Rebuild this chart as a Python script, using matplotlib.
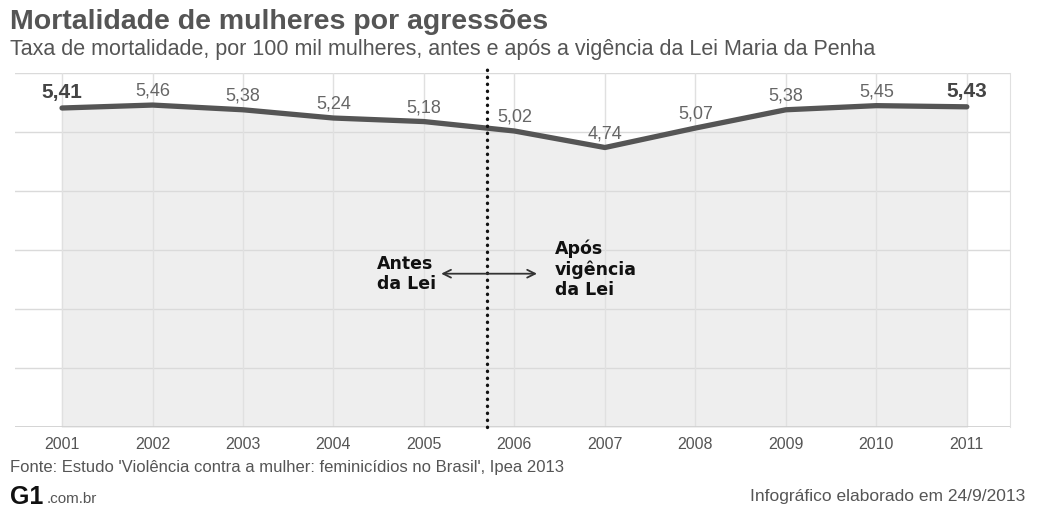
import matplotlib.pyplot as plt

plt.rcParams['font.family'] = ['Liberation Sans', 'DejaVu Sans']

# data
years = [2001, 2002, 2003, 2004, 2005, 2006, 2007, 2008, 2009, 2010, 2011]
taxa = [5.41, 5.46, 5.38, 5.24, 5.18, 5.02, 4.74, 5.07, 5.38, 5.45, 5.43]
destaque = [2001, 2011]   # labels drawn in bold
lei_x = 2005.7           # start of Lei Maria da Penha (dotted marker)

fig = plt.figure(figsize=(10.4, 5.12), dpi=100)
fig.patch.set_facecolor('white')
ax = fig.add_axes([0.0144, 0.166, 0.957, 0.691])

ax.set_xlim(2000.48, 2011.48)
ax.set_ylim(0, 6)

# grid
for y in range(0, 7):
    ax.axhline(y, color='#dadada', lw=1, zorder=1)
for x in years:
    ax.axvline(x, color='#e0e0e0', lw=1, zorder=1)
for s in ['top', 'left', 'bottom']:
    ax.spines[s].set_visible(False)
ax.spines['right'].set_color('#e0e0e0')
ax.axhline(0, color='#cfcfcf', lw=1.2, zorder=2)

# shaded area under the line
ax.fill_between(years, 0, taxa, color='#eeeeee', zorder=0)

# main line
ax.plot(years, taxa, color='#555555', lw=3.8, solid_capstyle='round', zorder=4)

# value labels
for x, v in zip(years, taxa):
    txt = f"{v:.2f}".replace('.', ',')
    if x in destaque:
        ax.annotate(txt, (x, v), xytext=(0, 11), textcoords='offset points',
                    ha='center', va='center', fontsize=15, fontweight='bold',
                    color='#444444', zorder=5)
    else:
        ax.annotate(txt, (x, v), xytext=(0, 10), textcoords='offset points',
                    ha='center', va='center', fontsize=13, color='#666666', zorder=5)

# dotted marker of the law
ax.plot([lei_x, lei_x], [0, 6.1], color='#111111', lw=2.4,
        linestyle=(0, (0.1, 2.0)), dash_capstyle='round', clip_on=False, zorder=6)

# before / after annotation
ax.annotate('', xy=(2005.16, 2.6), xytext=(2006.28, 2.6),
            arrowprops=dict(arrowstyle='<->', color='#333333', lw=1.3,
                            mutation_scale=14), zorder=6)
ax.text(2005.13, 2.6, 'Antes\nda Lei', ha='right', va='center', fontsize=12.5,
        fontweight='bold', color='#111111', linespacing=1.15,
        multialignment='left', family=['DejaVu Sans'])
ax.text(2006.45, 2.68, 'Após\nvigência\nda Lei', ha='left', va='center',
        fontsize=12.5, fontweight='bold', color='#111111', linespacing=1.15,
        family=['DejaVu Sans'])

# x ticks
ax.set_xticks(years)
ax.set_xticklabels([str(y) for y in years], fontsize=11.5, color='#555555')
ax.tick_params(axis='x', length=0, pad=7)
ax.set_yticks([])

# header and footer texts
fig.text(0.0096, 0.957, 'Mortalidade de mulheres por agressões', fontsize=20.5,
         fontweight='bold', color='#555555', ha='left', va='center')
fig.text(0.0096, 0.903, 'Taxa de mortalidade, por 100 mil mulheres, antes e após '
         'a vigência da Lei Maria da Penha', fontsize=15.5, color='#555555',
         ha='left', va='center')
fig.text(0.0096, 0.086, "Fonte: Estudo 'Violência contra a mulher: feminicídios no Brasil', Ipea 2013",
         fontsize=12, color='#555555', ha='left', va='center')
fig.text(0.0096, 0.03, 'G1', fontsize=18, fontweight='bold', color='#111111',
         ha='left', va='center')
fig.text(0.045, 0.025, '.com.br', fontsize=11, color='#555555', ha='left', va='center')
fig.text(0.986, 0.03, 'Infográfico elaborado em 24/9/2013', fontsize=12.5,
         color='#555555', ha='right', va='center')

fig.savefig('out.png', dpi=100, facecolor='white')
